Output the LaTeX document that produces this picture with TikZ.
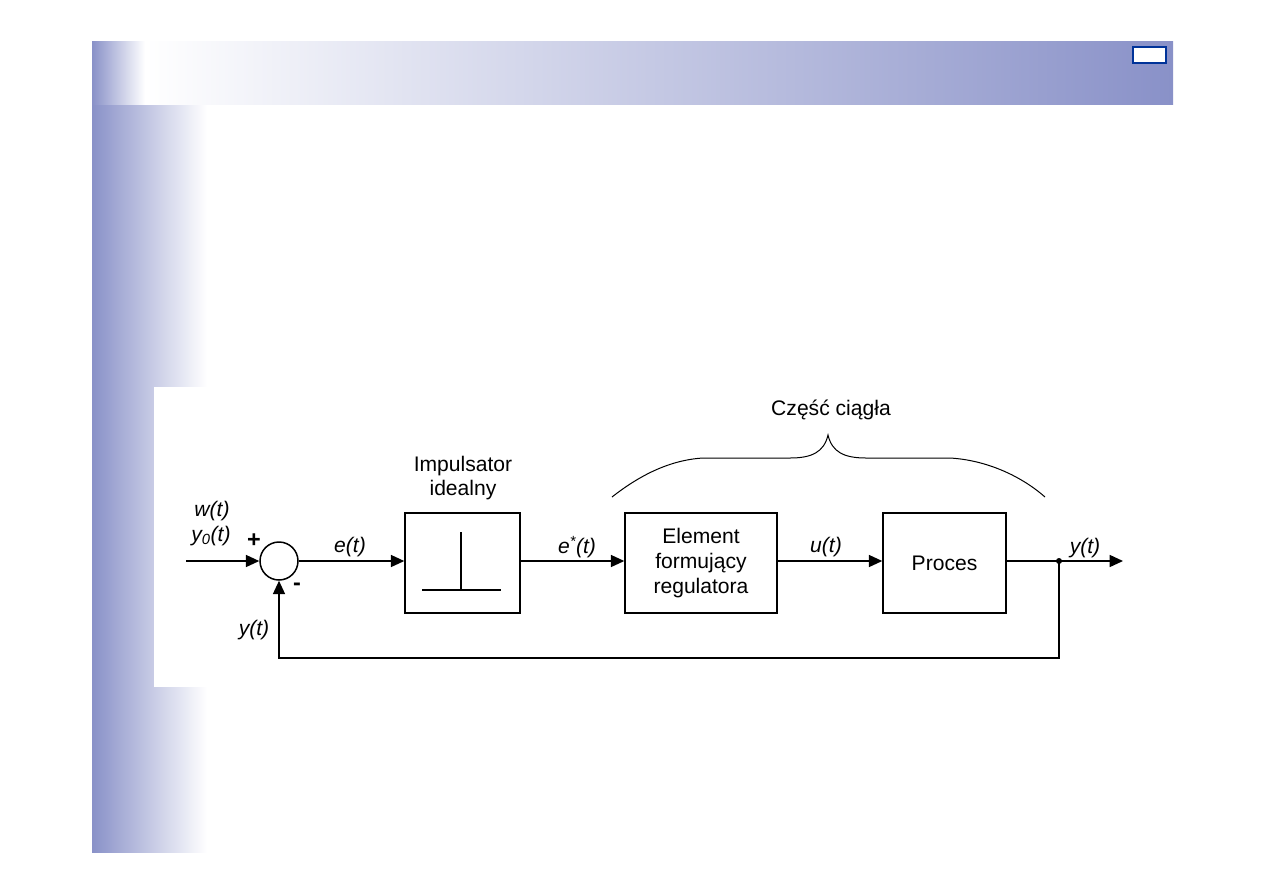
\documentclass[tikz,border=0pt]{standalone}
\usepackage{fontspec}
\setmainfont{Liberation Sans}
\usepackage{tikz}
\usetikzlibrary{arrows.meta,calc}

\definecolor{fiolet}{RGB}{137,145,200}
\definecolor{granat}{RGB}{0,51,153}

\tikzset{
    blok/.style={draw, line width=0.45mm, minimum height=30mm, align=center},
    sumator/.style={draw, circle, line width=0.45mm, minimum size=11.4mm, inner sep=0pt},
    strzalka/.style={line width=0.45mm, -{Triangle[length=4mm, width=3.6mm]}},
    linia/.style={line width=0.45mm},
    etykieta/.style={inner sep=0pt, font=\fontsize{18}{21}\selectfont\itshape}
}

\begin{document}
\begin{tikzpicture}[x=0.3mm, y=-0.3mm, every node/.style={font=\fontsize{18}{21}\selectfont}]

    \useasboundingbox (0,0) rectangle (1263,893);

    % --- tlo slajdu ---
    \shade[left color=fiolet, right color=white] (92,104) rectangle (207,852);
    \shade[left color=fiolet, right color=white] (92,41) rectangle (145,104);
    \shade[left color=white, right color=fiolet] (145,41) rectangle (1173,104);
    \fill[white] (154,387) rectangle (1150,687);
    \draw[granat, line width=0.6mm, fill=white] (1133,47) rectangle (1166,63);

    % --- bloki ---
    \node[sumator] (sum) at (279,561) {};
    \node[blok, minimum width=34.5mm] (imp) at (462.5,563) {};
    \node[blok, minimum width=45.6mm] (reg) at (701,563) {Element\\formujący\\regulatora};
    \node[blok, minimum width=36.9mm] (proc) at (944.5,563) {Proces};

    % symbol impulsatora
    \draw[linia] (461,532) -- (461,590);
    \draw[linia] (422,590) -- (501,590);

    % --- punkty pomocnicze ---
    \coordinate (wej) at (186,561);
    \coordinate (rozg) at (1059,561);
    \coordinate (wyj) at (1123,561);
    \coordinate (dol) at (0,658);

    % --- polaczenia ---
    \draw[strzalka] (wej) -- (sum.west);
    \draw[strzalka] (sum.east) -- (imp.west |- sum);
    \draw[strzalka] (imp.east |- sum) -- (reg.west |- sum);
    \draw[strzalka] (reg.east |- sum) -- (proc.west |- sum);
    \draw[strzalka] (proc.east |- sum) -- (wyj);
    \fill (rozg) circle (3);
    \draw[strzalka] (rozg) -- (rozg |- dol) -- (sum |- dol) -- (sum.south);

    % --- opisy ---
    \node[etykieta] (w) at (212,511) {w(t)};
    \node[etykieta] (y0) at (211,536) {y\textsubscript{0}(t)};
    \node[inner sep=0pt, font=\fontsize{20}{22}\selectfont\bfseries] (plus) at (254,541) {+};
    \node[inner sep=0pt, font=\fontsize{20}{22}\selectfont\bfseries] (minus) at (297,587) {-};
    \node[etykieta] (e) at (350,547) {e(t)};
    \node[etykieta] (yfb) at (254,630) {y(t)};
    \node[etykieta] (egw) at (577,547) {e\textsuperscript{*}(t)};
    \node[etykieta] (u) at (826,547) {u(t)};
    \node[etykieta] (y) at (1085,548) {y(t)};
    \node[align=center, inner sep=0pt] (impopis) at (463,478) {Impulsator\\idealny};

    % --- klamra ---
    \draw[line width=0.3mm] (612,497) .. controls (640,475) and (670,460) .. (703,458)
        -- (790,458) .. controls (812,458) and (824,452) .. (828,435)
        .. controls (832,452) and (844,458) .. (866,458)
        -- (950,458) .. controls (985,460) and (1020,475) .. (1045,497);
    \node[inner sep=0pt] (ciagla) at (831,410) {Część ciągła};

\end{tikzpicture}
\end{document}
